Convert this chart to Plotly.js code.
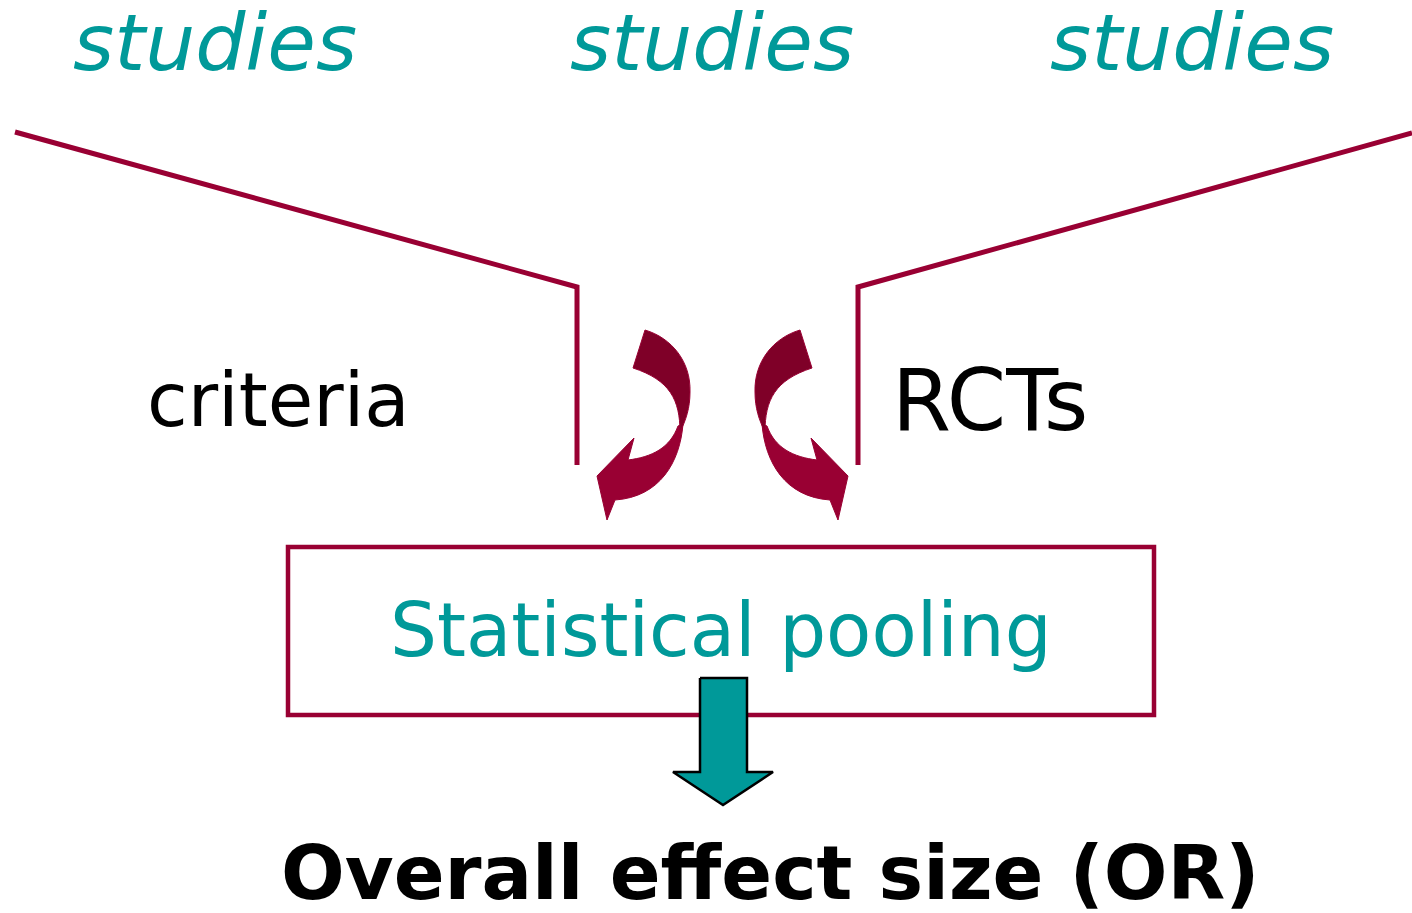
<!DOCTYPE html>
<html><head><meta charset="utf-8">
<script src="https://cdn.plot.ly/plotly-3.0.1.min.js"></script>
<style>html,body{margin:0;padding:0;background:#fff}#chart{width:1412px;height:913px}</style>
</head><body><div id="chart"></div>
<script>
// ---- content ----
const topLabels = ["studies", "studies", "studies"];
const topLabelX = [215, 712, 1192];
const sideLabels = ["criteria", "RCTs"];
const sideLabelX = [278, 990];
const boxLabel = "Statistical pooling";
const resultLabel = "Overall effect size (OR)";

// ---- diagram geometry (pixel-like data units, y grows downward) ----
const funnelLeftX = [15, 577, 577];
const funnelLeftY = [132, 287, 465];
const funnelRightX = [1412, 858, 858];
const funnelRightY = [133, 287, 465];
const boxX = [288, 1154];
const boxY = [547, 715];
const downArrowX = [700, 747, 747, 773, 723, 673, 700, 700];
const downArrowY = [678, 678, 772, 772, 805, 772, 772, 678];
// curved arrow (left one); right one is its mirror about x = 1445/2
const mirrorSum = 1445;
const upperBandPath = [
  ["M", 645, 330], ["C", 672, 338, 691, 362, 690, 392], ["C", 690, 408, 686, 420, 680, 432],
  ["C", 680, 400, 670, 380, 633, 368], ["Z"]
];
const lowerBandPath = [
  ["M", 683, 424], ["C", 680, 462, 660, 497, 615, 500], ["L", 607, 520],
  ["L", 597, 476], ["L", 634, 438], ["L", 628, 460],
  ["C", 652, 457, 670, 448, 678, 426], ["Z"]
];

const crimson = "#990033", dark = "#7f0028", teal = "#009999";

function toPath(cmds, mirror) {
  return cmds.map(c => {
    const out = [c[0]];
    for (let i = 1; i < c.length; i += 2) {
      const x = mirror ? mirrorSum - c[i] : c[i];
      out.push(x + "," + c[i + 1]);
    }
    return out.join(" ");
  }).join(" ");
}

const traces = [
  {x: funnelLeftX, y: funnelLeftY, mode: "lines", line: {color: crimson, width: 5}, hoverinfo: "skip"},
  {x: funnelRightX, y: funnelRightY, mode: "lines", line: {color: crimson, width: 5}, hoverinfo: "skip"},
  {x: downArrowX, y: downArrowY, mode: "lines", fill: "toself", fillcolor: teal,
   line: {color: "#000", width: 2.5}, hoverinfo: "skip"}
];

const shapes = [
  {type: "rect", xref: "x", yref: "y", x0: boxX[0], x1: boxX[1], y0: boxY[0], y1: boxY[1],
   line: {color: crimson, width: 4.5}, fillcolor: "rgba(0,0,0,0)", layer: "below"}
];
[false, true].forEach(m => {
  shapes.push({type: "path", xref: "x", yref: "y", path: toPath(lowerBandPath, m),
    fillcolor: crimson, line: {color: crimson, width: 1}});
  shapes.push({type: "path", xref: "x", yref: "y", path: toPath(upperBandPath, m),
    fillcolor: dark, line: {color: crimson, width: 1}});
});

const ff = "DejaVu Sans, Verdana, sans-serif";
const annotations = [];
topLabels.forEach((t, i) => annotations.push({
  x: topLabelX[i], y: 43, xref: "x", yref: "y", text: "<i>" + t + "</i>", showarrow: false,
  height: 76, borderpad: 0,
  font: {family: ff, size: 79, color: teal}, xanchor: "center", yanchor: "middle"}));
sideLabels.forEach((t, i) => annotations.push({
  x: sideLabelX[i], y: 400, xref: "x", yref: "y", text: t, showarrow: false,
  font: {family: ff, size: i === 0 ? 74 : 85, color: "#000"}, xanchor: "center", yanchor: "middle"}));
annotations.push({x: 721, y: 630, xref: "x", yref: "y", text: boxLabel, showarrow: false,
  font: {family: ff, size: 74, color: teal}, xanchor: "center", yanchor: "middle"});
annotations.push({x: 770, y: 873, xref: "x", yref: "y", text: "<b>" + resultLabel + "</b>", showarrow: false,
  font: {family: ff, size: 75, color: "#000"}, xanchor: "center", yanchor: "middle"});

const layout = {
  width: 1412, height: 913, margin: {l: 0, r: 0, t: 0, b: 0},
  paper_bgcolor: "#fff", plot_bgcolor: "#fff", showlegend: false,
  xaxis: {range: [0, 1412], visible: false, fixedrange: true},
  yaxis: {range: [913, 0], visible: false, fixedrange: true},
  shapes: shapes, annotations: annotations
};
Plotly.newPlot("chart", traces, layout, {staticPlot: true, displayModeBar: false});
</script></body></html>
